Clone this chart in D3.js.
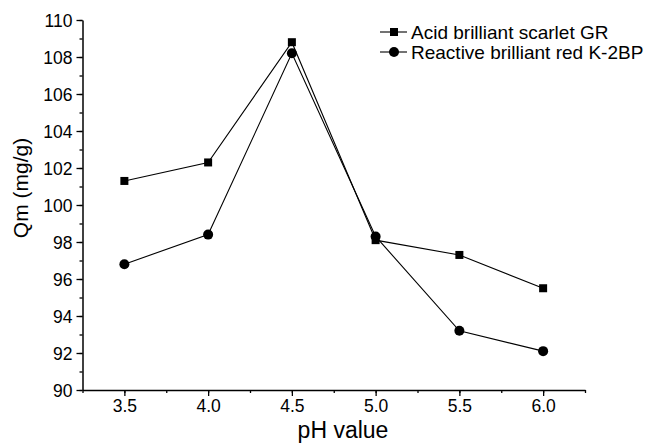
<!DOCTYPE html>
<html>
<head>
<meta charset="utf-8">
<script src="https://cdn.jsdelivr.net/npm/d3@7"></script>
<style>
  body { margin: 0; background: #fff; }
  text { font-family: "Liberation Sans", Arial, sans-serif; fill: #000; }
</style>
</head>
<body>
<div id="chart-area"></div>
<script>
// pH values and adsorption capacity of the two dyes
var phValues = [3.5, 4.0, 4.5, 5.0, 5.5, 6.0];
var acidScarlet = [101.3, 102.3, 108.8, 98.1, 97.3, 95.5];
var reactiveRed = [96.8, 98.4, 108.2, 98.3, 93.2, 92.1];
var xTicks = [3.5, 4.0, 4.5, 5.0, 5.5, 6.0];
var yTicks = [90, 92, 94, 96, 98, 100, 102, 104, 106, 108, 110];
var seriesNames = ["Acid brilliant scarlet GR", "Reactive brilliant red K-2BP"];

var margin = { left: 82.5, right: 75, top: 20, bottom: 53 };
var width = 660 - margin.left - margin.right;
var height = 443 - margin.top - margin.bottom;

var svg = d3.select("#chart-area")
	.append("svg")
		.attr("width", 660)
		.attr("height", 443);

var g = svg.append("g")
	.attr("transform", "translate(" + margin.left + "," + margin.top + ")");

var x = d3.scaleLinear()
	.domain([3.25, 6.25])
	.range([0, width]);

var y = d3.scaleLinear()
	.domain([90, 110])
	.range([height, 0]);

// minor ticks first so the major ones sit on top
g.append("g")
	.attr("transform", "translate(0," + height + ")")
	.call(d3.axisBottom(x).tickValues(d3.range(3.25, 6.26, 0.25)).tickSize(3).tickFormat("").tickSizeOuter(0))
	.call(function(a){ a.select(".domain").remove(); });

g.append("g")
	.call(d3.axisLeft(y).tickValues(d3.range(90, 110.5, 1)).tickSize(3).tickFormat("").tickSizeOuter(0))
	.call(function(a){ a.select(".domain").remove(); });

var xAxis = g.append("g")
	.attr("transform", "translate(0," + height + ")")
	.call(d3.axisBottom(x).tickValues(xTicks).tickSize(6).tickSizeOuter(0)
		.tickFormat(d3.format(".1f")));

var yAxis = g.append("g")
	.call(d3.axisLeft(y).tickValues(yTicks).tickSize(6).tickSizeOuter(0));

g.selectAll(".tick line").attr("stroke", "#000").attr("stroke-width", 1.3);
g.selectAll(".domain").attr("stroke", "#000").attr("stroke-width", 1.5);
xAxis.selectAll("text").attr("font-size", "17.5px").attr("y", 22).attr("dy", 0).attr("font-family", "Liberation Sans, Arial, sans-serif");
yAxis.selectAll("text").attr("font-size", "17.5px").attr("x", -10).attr("dy", "0.36em").attr("font-family", "Liberation Sans, Arial, sans-serif");

// axis titles
g.append("text")
	.attr("x", 343 - margin.left)
	.attr("y", 438 - margin.top)
	.attr("text-anchor", "middle")
	.attr("font-size", "23px")
	.text("pH value");

g.append("text")
	.attr("transform", "rotate(-90)")
	.attr("x", -(188 - margin.top))
	.attr("y", 28 - margin.left)
	.attr("text-anchor", "middle")
	.attr("font-size", "21px")
	.text("Qm (mg/g)");

var line = d3.line()
	.x(function(d){ return x(d.ph); })
	.y(function(d){ return y(d.q); });

function toPoints(vals){
	return phValues.map(function(p, i){ return { ph: p, q: vals[i] }; });
}

var acidData = toPoints(acidScarlet);
var reactiveData = toPoints(reactiveRed);

g.append("path")
	.datum(acidData)
	.attr("fill", "none")
	.attr("stroke", "#000")
	.attr("stroke-width", 1.1)
	.attr("d", line);

g.append("path")
	.datum(reactiveData)
	.attr("fill", "none")
	.attr("stroke", "#000")
	.attr("stroke-width", 1.1)
	.attr("d", line);

var sq = 8;
g.selectAll(".sq")
	.data(acidData)
	.enter()
	.append("rect")
		.attr("class", "sq")
		.attr("x", function(d){ return x(d.ph) - sq / 2; })
		.attr("y", function(d){ return y(d.q) - sq / 2; })
		.attr("width", sq)
		.attr("height", sq)
		.attr("fill", "#000");

g.selectAll(".dot")
	.data(reactiveData)
	.enter()
	.append("circle")
		.attr("class", "dot")
		.attr("cx", function(d){ return x(d.ph); })
		.attr("cy", function(d){ return y(d.q); })
		.attr("r", 5)
		.attr("fill", "#000");

// legend
var legend = svg.append("g").attr("transform", "translate(380,32)");
seriesNames.forEach(function(name, i){
	var row = legend.append("g").attr("transform", "translate(0," + (i * 20) + ")");
	row.append("line")
		.attr("x1", 0).attr("x2", 27)
		.attr("y1", 0).attr("y2", 0)
		.attr("stroke", "#000").attr("stroke-width", 1.1);
	if (i === 0) {
		row.append("rect").attr("x", 10).attr("y", -4).attr("width", 8).attr("height", 8).attr("fill", "#000");
	} else {
		row.append("circle").attr("cx", 14).attr("cy", 0).attr("r", 5).attr("fill", "#000");
	}
	row.append("text")
		.attr("x", 31)
		.attr("y", 6.5)
		.attr("font-size", "19px")
		.text(name);
});
</script>
</body>
</html>
